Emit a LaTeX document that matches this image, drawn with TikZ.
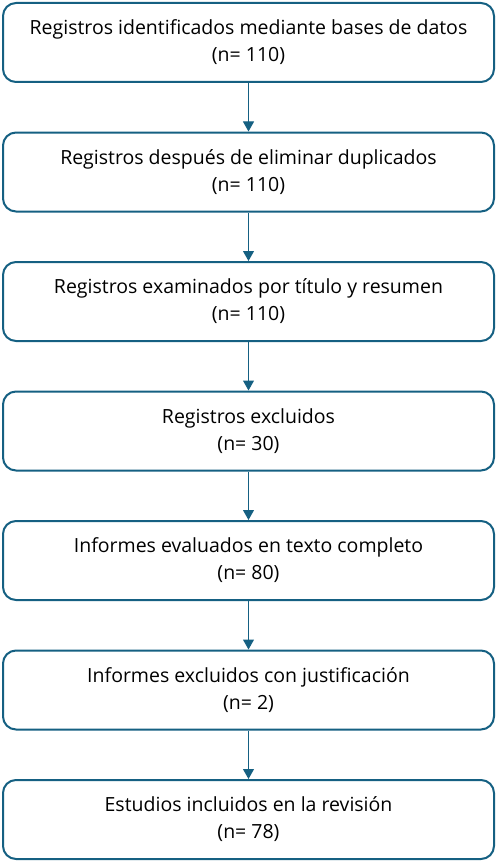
\documentclass[tikz,border=0pt]{standalone}
\usepackage{fontspec}
\setmainfont{Open Sans}
\usetikzlibrary{arrows.meta, positioning}
\definecolor{flowblue}{HTML}{156082}

\tikzset{
  stage/.style={draw=flowblue, line width=2pt, rounded corners=13pt, fill=white,
    minimum width=491pt, minimum height=79pt, align=center, inner sep=0pt,
    font=\fontsize{19.5}{27}\selectfont},
  flow/.style={draw=flowblue, line width=1pt, -{Triangle[length=10pt, width=11pt, fill=flowblue]}}
}

\begin{document}
\begin{tikzpicture}[x=1pt, y=1pt]
        \useasboundingbox (0,0) rectangle (497,-864);

        \node [stage] (S1) at (248.5,-42.5) {Registros identificados mediante bases de datos\\(n= 110)};
        \node [stage, below=48.5pt of S1] (S2) {Registros después de eliminar duplicados\\(n= 110)};
        \node [stage, below=48.5pt of S2] (S3) {Registros examinados por título y resumen\\(n= 110)};
        \node [stage, below=48.5pt of S3] (S4) {Registros excluidos\\(n= 30)};
        \node [stage, below=48.5pt of S4] (S5) {Informes evaluados en texto completo\\(n= 80)};
        \node [stage, below=48.5pt of S5] (S6) {Informes excluidos con justificación\\(n= 2)};
        \node [stage, below=48.5pt of S6] (S7) {Estudios incluidos en la revisión\\(n= 78)};

        \draw [flow] (S1) -- (S2);
        \draw [flow] (S2) -- (S3);
        \draw [flow] (S3) -- (S4);
        \draw [flow] (S4) -- (S5);
        \draw [flow] (S5) -- (S6);
        \draw [flow] (S6) -- (S7);
\end{tikzpicture}
\end{document}
